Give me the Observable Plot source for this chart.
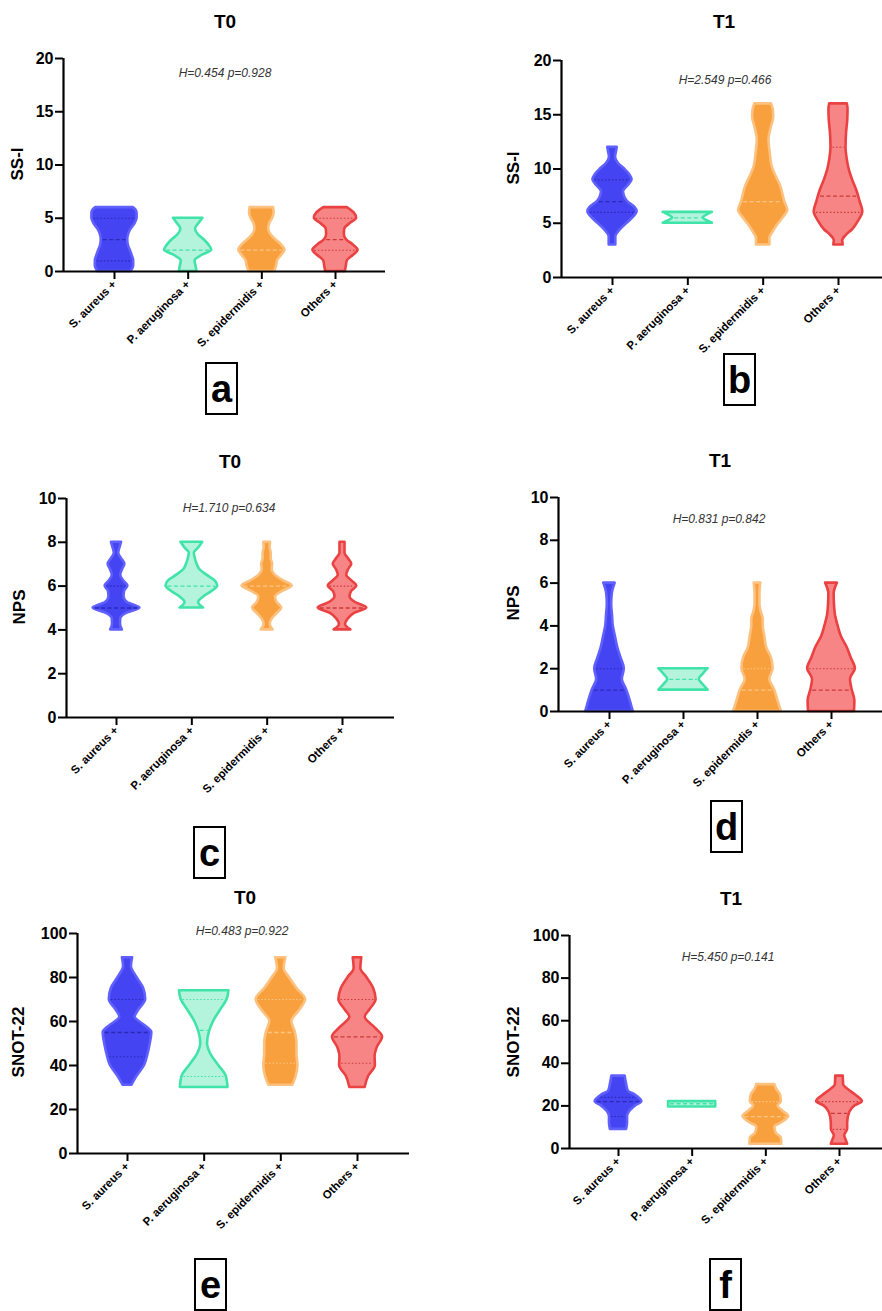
<!DOCTYPE html>
<html><head><meta charset="utf-8">
<script src="https://cdn.jsdelivr.net/npm/d3@7"></script>
<script src="https://cdn.jsdelivr.net/npm/@observablehq/plot@0.6"></script>
<style>
body{margin:0;background:#fff;}
#root{position:relative;width:882px;height:1311px;font-family:"Liberation Sans",Arial,sans-serif;color:#000;overflow:hidden;}
.abs{position:absolute;}
.title{font-weight:bold;font-size:19px;transform:translate(-50%,-50%);white-space:nowrap;}
.note{font-style:italic;font-size:12px;color:#333;transform:translate(-50%,-50%);white-space:nowrap;}
.ylab{font-weight:bold;font-size:17px;transform:translate(-50%,-50%) rotate(-90deg);white-space:nowrap;}
.letter{border:2px solid #000;width:33px;height:53px;font-weight:bold;font-size:38px;display:flex;align-items:center;justify-content:center;box-sizing:border-box;line-height:1;}
</style></head>
<body><div id="root"></div>
<script>
// ---------- categories & styles ----------
const groups = ["S. aureus +", "P. aeruginosa +", "S. epidermidis +", "Others +"];
const fills = ["#4444f2", "#b4f3dc", "#f9a03e", "#f88585"];
const strokes = ["#6060ff", "#40e4a8", "#fcc17f", "#ea4242"];
const lineColors = ["#2a2ab5", "#40e4a8", "#fdc583", "#c83a3a"];

// ---------- panel texts ----------
const titles = ["T0", "T1", "T0", "T1", "T0", "T1"];
const yLabels = ["SS-I", "SS-I", "NPS", "NPS", "SNOT-22", "SNOT-22"];
const stats = ["H=0.454 p=0.928", "H=2.549 p=0.466", "H=1.710 p=0.634", "H=0.831 p=0.842", "H=0.483 p=0.922", "H=5.450 p=0.141"];
const letters = ["a", "b", "c", "d", "e", "f"];
const ticksSSI = [0, 5, 10, 15, 20];
const ticksNPS = [0, 2, 4, 6, 8, 10];
const ticksSNOT = [0, 20, 40, 60, 80, 100];

// ---------- violin profiles: [value, relative density width] ----------
const ssiT0 = [
  [[0,17],[0.5,19.5],[1,19.5],[1.5,18],[2,16],[2.5,14],[3,13.5],[3.5,14.5],[4,17],[4.5,21],[5,23],[5.5,23],[5.8,21.5],[6,19]],
  [[0,9],[0.5,8],[1,7],[1.5,14],[2,24],[2.5,21],[3,16],[3.5,10],[4,7.5],[4.5,11],[5,15]],
  [[0,13],[0.5,15],[1,16],[1.5,20],[2,23.5],[2.5,20],[3,14],[3.5,9],[4,7],[4.5,8],[5,11],[5.5,12.5],[6,12]],
  [[0,10],[0.5,11],[1,12],[1.5,18],[2,23],[2.5,18],[3,11],[3.5,9],[4,9.5],[4.5,15],[5,21.5],[5.5,19],[6,12]]
];
const ssiT1 = [
  [[3,3.3],[3.75,3.3],[4.2,6],[4.7,11],[5.3,18],[6.05,24.5],[6.5,22],[7,15],[7.9,11],[8.5,16],[9,19.5],[9.5,17],[10,12],[10.5,6],[11.1,3],[11.6,4],[12,4.7]],
  [[5,24.5],[5.25,19],[5.5,15],[5.75,19],[6,24.5]],
  [[3,6.7],[3.6,6.7],[4.2,10],[4.7,13.3],[5.4,19],[6.2,24.5],[7,21.5],[8.4,17.5],[9.3,13],[10.2,9],[11.5,7],[12.7,5.8],[13.8,8],[14.8,10.5],[15.5,10],[16,8.3]],
  [[3,4.7],[3.4,4.2],[3.9,8],[4.4,14],[5.2,20],[6.05,24.2],[7,21.5],[8,18.3],[9,14],[9.9,10.8],[11,8.5],[12,7.5],[13.3,8],[14.5,9.2],[15.5,9.5],[16,8.8]]
];
const npsT0 = [
  [[4,5.8],[4.25,4],[4.5,4.2],[4.75,10],[5,23.3],[5.25,11],[5.5,7.5],[5.75,8],[6,11.3],[6.25,7],[6.5,4.2],[6.75,6],[7,8.3],[7.25,5],[7.5,2.2],[7.75,3.5],[8,5]],
  [[5,11.7],[5.25,6.7],[5.5,11.7],[5.75,20],[6,25.8],[6.25,23],[6.5,15],[6.75,8],[7,5.3],[7.25,3.5],[7.5,2.5],[7.75,7],[8,10.8]],
  [[4,5.8],[4.25,3],[4.5,5],[4.75,10],[5,14.5],[5.25,10],[5.5,8.3],[5.75,15],[6,25],[6.25,16],[6.5,8],[6.75,5],[7,5.5],[7.25,4],[7.5,4],[7.75,3],[8,3.3]],
  [[4,8.3],[4.25,3],[4.5,5.8],[4.75,12],[5,24.2],[5.25,13],[5.5,7.5],[5.75,9],[6,14.2],[6.25,9],[6.5,4.2],[6.75,6],[7,9.2],[7.25,6],[7.5,2.5],[7.75,2.5],[8,2.5]]
];
const npsT1 = [
  [[0,24],[0.5,21],[1,17.5],[1.5,13],[2,15],[2.5,11.7],[3,8.3],[3.5,6],[4,3.8],[4.5,3],[5,2.2],[5.5,2.8],[6,5.8]],
  [[1,25],[1.25,20],[1.5,16],[1.75,20],[2,25]],
  [[0,24.2],[0.5,20.8],[1,17.5],[1.5,12.5],[2,15.8],[2.5,14.2],[3,9.2],[3.5,7.5],[4,5.8],[4.3,5.8],[4.7,3.5],[5,2.5],[5.5,2.5],[6,3.3]],
  [[0,23.3],[0.5,23.7],[1,21],[1.5,19.2],[2,24.2],[2.5,20],[3,15.8],[3.5,10],[4,6.7],[4.5,4],[5,3],[5.5,2.7],[6,6]]
];
const snotT0 = [
  [[31,4.2],[35,9.2],[40,16.7],[45,20],[50,22.3],[55,23.8],[58,17.5],[62,7.5],[65,10.8],[70,17.8],[75,15.8],[80,9.2],[85,3.8],[89,5]],
  [[30,23.3],[35,21.7],[40,14.2],[45,6.7],[50,3.3],[55,5],[60,9.2],[65,15.8],[70,22.5],[74,24.2]],
  [[31,11.7],[35,15],[40,16.7],[45,15.8],[50,15.8],[55,14.2],[60,10.8],[65,18.3],[70,24.2],[75,15.8],[80,8.3],[84,3.3],[89,5]],
  [[30,7.5],[35,10.8],[40,17.5],[44,17.2],[48,19.2],[53,24.5],[57,17.5],[62,7.5],[65,11.7],[70,18.2],[75,15.8],[80,9.2],[84,3.3],[89,4.2]]
];
const snotT1 = [
  [[9,8.3],[12,9.2],[15,9.2],[17,10.8],[20,17.5],[22,23.8],[25,17.5],[27,10],[30,8.3],[34,6.7]],
  [[19.5,24],[20.75,24],[22,24]],
  [[2,16.2],[5,15.8],[7,10.8],[10,9.2],[12,15.8],[15,23.3],[17.5,17.5],[20,12.5],[22,15.8],[25,15],[28,10.8],[30,9.2]],
  [[2,8.3],[4,6.7],[6,5.3],[9,8.3],[12,8.3],[17,10.5],[20,15.8],[22,23.3],[25,16.7],[27,10.8],[30,4.2],[34,3.8]]
];

// ---------- medians and quartiles ----------
const ssiT0Median = [3, 2, 2, 3];
const ssiT0Quart = [[1, 5], [], [], [2, 5]];
const ssiT1Median = [7, 5.5, 7, 7.5];
const ssiT1Quart = [[6, 9], [], [], [6, 12]];
const npsT0Median = [5, 6, 6, 5];
const npsT0Quart = [[6], [], [], [6]];
const npsT1Median = [1, 1.5, 1, 1];
const npsT1Quart = [[2], [], [2], [2]];
const snotT0Median = [55, 56, 55, 53];
const snotT0Quart = [[44, 70], [35, 70], [41, 70], [41, 70]];
const snotT1Median = [22, 21, 15, 16.5];
const snotT1Quart = [[15, 24], [], [22], [9, 22]];

// ---------- layout (pixel geometry of each panel) ----------
const layout = [
  {left: 0,   L: 63,  R: 385, yTop: 58,  y0: 271,  t1: 114, t4: 335, title: [225, 22],  note: [225, 73],  ylab: [18, 164],  box: [205, 362]},
  {left: 441, L: 561, R: 882, yTop: 60,  y0: 277,  t1: 612, t4: 838, title: [724, 22],  note: [725, 80],  ylab: [514, 168], box: [723, 353]},
  {left: 0,   L: 66,  R: 394, yTop: 498, y0: 717,  t1: 116, t4: 342, title: [230, 462], note: [229, 508], ylab: [20, 607],  box: [193, 826]},
  {left: 441, L: 558, R: 882, yTop: 497, y0: 711,  t1: 609, t4: 831, title: [720, 461], note: [719, 519], ylab: [514, 603], box: [710, 800]},
  {left: 0,   L: 77,  R: 409, yTop: 933, y0: 1153, t1: 127, t4: 357, title: [245, 898], note: [242, 931], ylab: [19, 1042], box: [194, 1258]},
  {left: 441, L: 569, R: 882, yTop: 935, y0: 1148, t1: 618, t4: 839, title: [731, 899], note: [728, 957], ylab: [514, 1042], box: [709, 1258]}
];

const profilesAll = [ssiT0, ssiT1, npsT0, npsT1, snotT0, snotT1];
const mediansAll = [ssiT0Median, ssiT1Median, npsT0Median, npsT1Median, snotT0Median, snotT1Median];
const quartsAll = [ssiT0Quart, ssiT1Quart, npsT0Quart, npsT1Quart, snotT0Quart, snotT1Quart];
const ticksAll = [ticksSSI, ticksSSI, ticksNPS, ticksNPS, ticksSNOT, ticksSNOT];

const root = document.getElementById("root");
const K = 75; // density units per x unit
const yFont = 16, xFont = 11.5;

function widthAt(prof, v) {
  for (let j = 0; j < prof.length - 1; j++) {
    const [a, da] = prof[j], [b, db] = prof[j + 1];
    if (v >= a && v <= b) return da + (db - da) * (v - a) / (b - a || 1);
  }
  return prof[prof.length - 1][1];
}

function addDiv(cls, x, y, text) {
  const d = document.createElement("div");
  d.className = "abs " + cls;
  d.style.left = x + "px"; d.style.top = y + "px";
  d.textContent = text;
  root.appendChild(d);
  return d;
}

layout.forEach((g, p) => {
  const s = (g.t4 - g.t1) / 3;
  const xmin = 1 - (g.t1 - g.L) / s;
  const xmax = 4 + (g.R - g.t4) / s;
  const mt = 12, mb = 85;
  const ticks = ticksAll[p];
  const ymax = ticks[ticks.length - 1];
  const height = (g.y0 - g.yTop) + mt + mb;
  const marks = [];
  profilesAll[p].forEach((prof, i) => {
    const rows = prof.map(([v, d]) => ({v, d, c: i + 1}));
    marks.push(Plot.areaX(rows, {
      y: "v", x1: r => r.c - r.d / K, x2: r => r.c + r.d / K,
      fill: fills[i], stroke: strokes[i], strokeWidth: 2.6, strokeLinejoin: "round",
      curve: "monotone-y"
    }));
    const lines = [{v: mediansAll[p][i], m: true}, ...quartsAll[p][i].map(v => ({v, m: false}))];
    lines.forEach(l => {
      const w = Math.max(0, widthAt(prof, l.v) - 2) / K;
      marks.push(Plot.ruleY([l.v], {
        x1: i + 1 - w, x2: i + 1 + w,
        stroke: lineColors[i], strokeWidth: l.m ? 1.3 : 1.1,
        strokeDasharray: l.m ? "4,2.5" : "1.5,2"
      }));
    });
  });
  marks.push(Plot.ruleY([0], {stroke: "#000", strokeWidth: 2.2}));
  marks.push(Plot.ruleX([xmin], {stroke: "#000", strokeWidth: 2.2}));
  marks.push(Plot.axisY({ticks, tickSize: 8, tickPadding: 2, strokeWidth: 2, fontSize: yFont, fontWeight: "bold", label: null}));
  marks.push(Plot.axisX({ticks: [1, 2, 3, 4], tickFormat: d => groups[d - 1], tickRotate: -45, tickSize: 8, tickPadding: 3, strokeWidth: 2, fontSize: xFont, fontWeight: "bold", label: null}));

  const chart = Plot.plot({
    width: 441, height,
    marginLeft: g.L - g.left, marginRight: g.left + 441 - g.R,
    marginTop: mt, marginBottom: mb,
    x: {domain: [xmin, xmax]},
    y: {domain: [0, ymax]},
    style: {fontFamily: "Liberation Sans, Arial, sans-serif", color: "#000", background: "transparent", overflow: "visible"},
    marks
  });
  chart.style.position = "absolute";
  chart.style.left = g.left + "px";
  chart.style.top = (g.yTop - mt) + "px";
  root.appendChild(chart);

  addDiv("title", g.title[0], g.title[1], titles[p]);
  addDiv("note", g.note[0], g.note[1], stats[p]);
  addDiv("ylab", g.ylab[0], g.ylab[1], yLabels[p]);
  addDiv("letter", g.box[0], g.box[1], letters[p]);
});
</script>
</body></html>
